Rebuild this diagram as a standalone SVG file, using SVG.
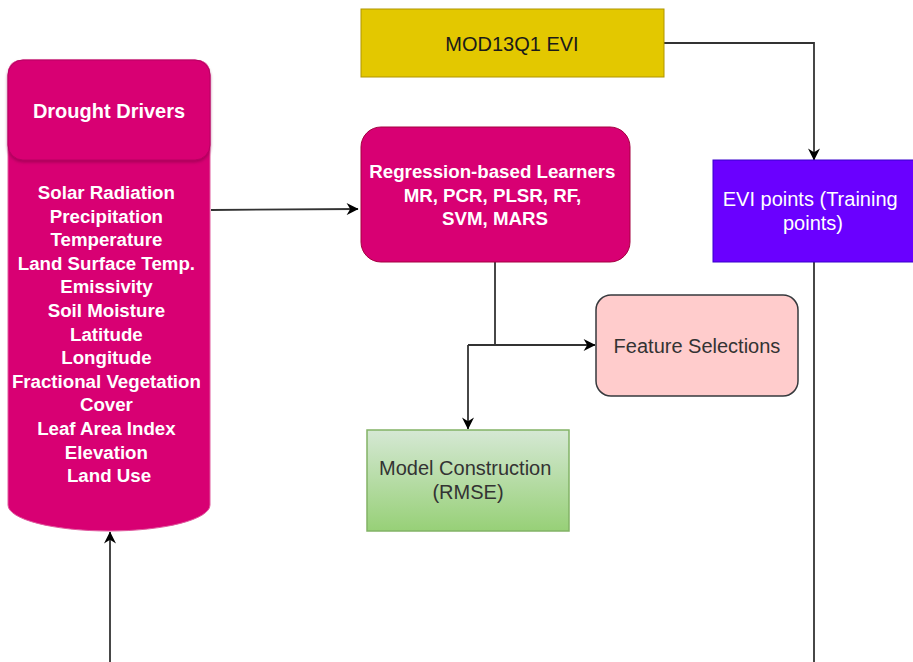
<svg xmlns="http://www.w3.org/2000/svg" width="913" height="662" viewBox="0 0 913 662">
<defs>
<style>
.t{font-family:"Liberation Sans",Arial,sans-serif;text-anchor:middle}
.w{fill:#ffffff}
.b{font-weight:bold;font-size:18.7px}
.r{font-size:20px}
.d{fill:#333333}
.k{fill:#1a1a1a}
.c{fill:none;stroke:#333333;stroke-width:1.8}
</style>
<marker id="ah" viewBox="0 0 10 10" refX="9.5" refY="5" markerWidth="13" markerHeight="12" markerUnits="userSpaceOnUse" orient="auto">
<path d="M0,0 L10,5 L0,10 L3,5 Z" fill="#000000"/>
</marker>
<linearGradient id="gg" x1="0" y1="0" x2="0" y2="1">
<stop offset="0" stop-color="#d5e8d4"/>
<stop offset="1" stop-color="#97d077"/>
</linearGradient>
<filter id="sh" x="-5%" y="-5%" width="110%" height="120%">
<feDropShadow dx="0" dy="2" stdDeviation="1.5" flood-color="#8a0048" flood-opacity="0.6"/>
</filter>
</defs>

<g id="connectors">
<path class="c" d="M211,210 L358,209" marker-end="url(#ah)"/>
<path class="c" d="M664,43 L814,43 L814,160" marker-end="url(#ah)"/>
<path class="c" d="M814,262 L814,662"/>
<path class="c" d="M110,662 L110,532" marker-end="url(#ah)"/>
<path class="c" d="M495,262 L495,345"/>
<path class="c" d="M468,345 L595,345" marker-end="url(#ah)"/>
<path class="c" d="M468,345 L468,429" marker-end="url(#ah)"/>
</g>

<g id="drought-drivers">
<path d="M8,75 Q8,60 23,60 L195,60 Q210,60 210,75 L210,505 A101,26 0 0 1 8,505 Z" fill="#d80073" stroke="#e05a9e" stroke-width="1"/>
<rect x="8" y="60" width="202" height="100" rx="15" fill="#d80073" stroke="#b80062" stroke-width="1" filter="url(#sh)"/>
<text class="t w" x="109" y="118" font-size="20" font-weight="bold">Drought Drivers</text>
<text class="t w b">
<tspan x="109" y="199">Solar Radiation</tspan>
<tspan x="109" y="222.6">Precipitation</tspan>
<tspan x="109" y="246.2">Temperature</tspan>
<tspan x="109" y="269.8">Land Surface Temp.</tspan>
<tspan x="109" y="293.4">Emissivity</tspan>
<tspan x="109" y="317">Soil Moisture</tspan>
<tspan x="109" y="340.6">Latitude</tspan>
<tspan x="109" y="364.2">Longitude</tspan>
<tspan x="109" y="387.8">Fractional Vegetation</tspan>
<tspan x="109" y="411.4">Cover</tspan>
<tspan x="109" y="435">Leaf Area Index</tspan>
<tspan x="109" y="458.6">Elevation</tspan>
<tspan x="109" y="482.2">Land Use</tspan>
</text>
</g>

<g id="mod13q1">
<rect x="361" y="9" width="303" height="68" fill="#e3c800" stroke="#b09500" stroke-width="1"/>
<text class="t r k" x="512" y="51">MOD13Q1 EVI</text>
</g>

<g id="regression">
<rect x="361" y="127" width="269" height="135" rx="20" fill="#d80073" stroke="#a50040" stroke-width="1"/>
<text class="t w b">
<tspan x="495" y="178">Regression-based Learners</tspan>
<tspan x="495" y="201.5">MR, PCR, PLSR, RF,</tspan>
<tspan x="495" y="225">SVM, MARS</tspan>
</text>
</g>

<g id="evi-points">
<rect x="713" y="160" width="205" height="102" fill="#6a00ff" stroke="#3700cc" stroke-width="1"/>
<text class="t w r">
<tspan x="813" y="206">EVI points (Training</tspan>
<tspan x="813" y="230">points)</tspan>
</text>
</g>

<g id="feature-selections">
<rect x="596" y="295" width="202" height="101" rx="15" fill="#ffcccc" stroke="#36393d" stroke-width="1.5"/>
<text class="t r d" x="697" y="353">Feature Selections</text>
</g>

<g id="model-construction">
<rect x="367" y="430" width="202" height="101" fill="url(#gg)" stroke="#82b366" stroke-width="1.5"/>
<text class="t r d">
<tspan x="468" y="475">Model Construction</tspan>
<tspan x="468" y="499">(RMSE)</tspan>
</text>
</g>
</svg>
